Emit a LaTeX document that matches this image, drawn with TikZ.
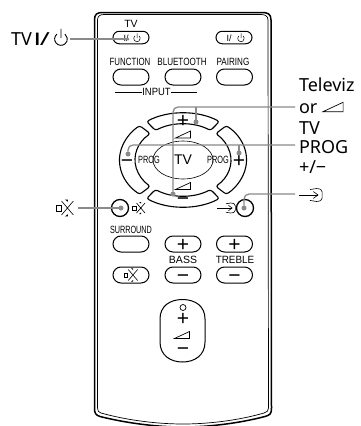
\documentclass[tikz,border=0pt]{standalone}
\usepackage{fontspec}
\usepackage{graphicx}
\setmainfont{Noto Sans}
\newfontfamily\remf{Liberation Sans}
\usetikzlibrary{shapes.misc}
\definecolor{leader}{HTML}{8A8A8A}
\tikzset{
  pill/.style={draw=black,line width=1pt,rounded rectangle,minimum height=#1,inner sep=0pt,outer sep=0pt},
  pill/.default=16pt,
  wideb/.style={pill,minimum width=36pt},
  ringb/.style={draw=black,line width=1.1pt,line join=round,rounded corners=2.5pt},
  lead/.style={draw=leader,line width=1.3pt,rounded corners=5pt},
  dotn/.style={circle,fill=leader,inner sep=0pt,minimum size=5pt,outer sep=0pt},
  free/.style={inner sep=0pt,outer sep=0pt},
  rem/.style={inner sep=0pt,outer sep=0pt,font=\remf\fontsize{10.5}{11}\selectfont},
  lab/.style={inner sep=0pt,outer sep=0pt,anchor=base west,font=\fontsize{18}{20}\selectfont},
  sym/.style={inner sep=0pt,outer sep=0pt,anchor=base,font=\remf\fontsize{21}{21}\selectfont},
}
% wedge icon: centre #1,#2 scale #3
\newcommand{\wedgeicon}[3]{\draw[line width=.7pt,line join=miter,shift={(#1,#2)},scale=#3] (-7.5,3.5) -- (7.5,3.5) -- (7.5,-3.5) -- cycle;}
% mute icon
\newcommand{\muteicon}[3]{\begin{scope}[shift={(#1,#2)},scale=#3]
  \draw[line width=.6pt] (-6.5,-2) rectangle (-3,2);
  \draw[line width=.6pt] (-2.5,-5) -- (6,5) (-2.5,5) -- (6,-5);
  \fill (0,-6) -- (2,-6) -- (2,-4.5) -- cycle (0,6) -- (2,6) -- (2,4.5) -- cycle;
\end{scope}}
% input icon
\newcommand{\inputicon}[3]{\begin{scope}[shift={(#1,#2)},scale=#3]
  \draw[line width=.6pt,rounded corners=1.5pt] (-3,-4) -- (3,-5) -- (6,-3.5) -- (6,3.5) -- (3,5) -- (-3,4);
  \draw[line width=.6pt] (-11,0) -- (3,0);
  \draw[line width=.6pt] (-.5,-2.5) -- (3,0) -- (-.5,2.5);
\end{scope}}
% power icon
\newcommand{\powericon}[4]{\draw[line width=#4,shift={(#1,#2)},scale=#3] (-2.6,-3.2) arc[start angle=231,end angle=-51,radius=4.1] (0,-6.5) -- (0,-.5);}
\newcommand{\ringbtn}[2]{\path[ringb] ({183+63.5*cos(#1)},{160+47*sin(#1)}) arc[start angle=#1,end angle=#2,x radius=63.5,y radius=47] -- ({183+48*cos(#2)},{160+36*sin(#2)}) arc[start angle=#2,end angle=#1,x radius=48,y radius=36] -- cycle;}
\begin{document}
\begin{tikzpicture}[x=1pt,y=1pt,yscale=-1]
\useasboundingbox (0,0) rectangle (361,426);
\fill[white] (0,0) rectangle (361,426);
% body
\begin{scope}
\clip (0,0) rectangle (361,426);
\draw[line width=1.5pt,line join=round] (94.5,412) -- (94.5,20) .. controls (94.5,14) and (97,12.5) .. (103,12.5) -- (262,12.5) .. controls (268,12.5) and (271,14) .. (271,20) -- (271.5,408) .. controls (271.5,414) and (270,415) .. (265,416.5) .. controls (240,423) and (210,427) .. (183,427) .. controls (156,427) and (126,423) .. (100,416.5) .. controls (96,415) and (94.5,414) .. (94.5,408);
\draw[line width=.7pt] (97.5,408) -- (97.5,20) .. controls (97.5,16) and (100,14.5) .. (104,14.5) -- (261,14.5) .. controls (265,14.5) and (268,16) .. (268,20) -- (268.5,408) .. controls (268.5,411) and (267,412) .. (264,413) .. controls (240,420) and (210,424) .. (183,424) .. controls (156,424) and (126,420) .. (101,413) .. controls (98.5,412) and (97.5,411) .. (97.5,408);
\end{scope}
% top buttons
\node[rem] (ttv) at (131,24) {TV};
\node[wideb,minimum height=12.5pt] (bpow) at (131,37.5) {};
\node[wideb,minimum height=12.5pt] (bsys) at (234,37.5) {};
\node[rem,font=\remf\fontsize{9}{9}\selectfont] (bpowt) at (126,38) {I/};
\node[rem,font=\remf\fontsize{9}{9}\selectfont] (bsyst) at (229,38) {I/};
\powericon{137}{38.5}{.8}{.5pt}
\powericon{241}{38.5}{.8}{.5pt}
\node[rem] (tfun) at (130,62) {\scalebox{.75}[1]{FUNCTION}};
\node[rem] (tblu) at (182,62) {\scalebox{.77}[1]{BLUETOOTH}};
\node[rem] (tpai) at (233,62) {\scalebox{.77}[1]{PAIRING}};
\node[wideb] (bfun) at (131,77) {};
\node[wideb] (bblu) at (183,77) {};
\node[wideb] (bpai) at (234.5,77) {};
\node[rem] (tinp) at (156.5,92) {\scalebox{.9}[1]{INPUT}};
\coordinate (il) at (115,92);
\coordinate (ir) at (197,92);
\draw[line width=.9pt] (il) -- (tinp.west) (tinp.east) -- (ir);
% ring
\ringbtn{235}{305}
\ringbtn{-47}{47}
\ringbtn{55}{125}
\ringbtn{133}{227}
\draw[line width=.6pt] (183,160) ellipse[x radius=30,y radius=19];
\node[sym] (vp) at (183,127) {+};
\node[sym] (vm) at (183,205) {−};
\node[sym] (pm) at (127,167) {−};
\node[sym] (pp) at (239,167) {+};
\wedgeicon{183}{134.5}{1}
\wedgeicon{183}{186}{1}
\node[rem] (pl) at (149,160) {\scalebox{.7}[1]{PROG}};
\node[rem] (pr) at (218,160) {\scalebox{.7}[1]{PROG}};
\node[rem,font=\remf\fontsize{14}{14}\selectfont] (ctv) at (183,160) {TV};
% circle buttons
\node[draw=black,line width=1.3pt,circle,minimum size=17pt,inner sep=0pt] (cl) at (120,208) {};
\node[draw=black,line width=1.3pt,circle,minimum size=17pt,inner sep=0pt] (cr) at (245,208) {};
\muteicon{139}{208}{1}
\inputicon{229}{208}{1.05}
% lower buttons
\node[rem] (tsur) at (131,230) {\scalebox{.69}[1]{SURROUND}};
\node[wideb] (bsur) at (131,244) {};
\node[wideb] (bbp) at (183,244) {};
\node[wideb] (btp) at (234.5,244) {};
\node[sym] (sbp) at (183,251) {+};
\node[sym] (stp) at (234.5,251) {+};
\node[rem] (tbas) at (183,260) {BASS};
\node[rem] (ttre) at (235,260) {\scalebox{.94}[1]{TREBLE}};
\node[wideb] (bmu) at (131,275) {};
\node[wideb] (bbm) at (183,275) {};
\node[wideb] (btm) at (234.5,275) {};
\node[sym] (sbm) at (183,282) {−};
\node[sym] (stm) at (234.5,282) {−};
\muteicon{131}{275}{1.1}
% volume pill
\draw[line width=1pt] (160,319) .. controls (160,306) and (170,299.5) .. (182.5,299.5) .. controls (195,299.5) and (205,306) .. (205,319) -- (205,342) .. controls (205,355) and (195,362) .. (182.5,362) .. controls (170,362) and (160,355) .. (160,342) -- cycle;
\draw[line width=.7pt] (183,307.5) circle[radius=3];
\node[sym] (ovp) at (183,325) {+};
\wedgeicon{182}{335}{1}
\node[sym] (ovm) at (183,355) {−};
% labels
\node[lab] (ltv) at (11,45) {TV\hspace{3pt}{\remf\bfseries I}\scalebox{1.5}[1]{/}};
\powericon{61}{39}{1.55}{.9pt}
\coordinate (a1) at (70,39);
\node[dotn,minimum size=3pt] (d1) at (128,39) {};
\node[lab] (ltel) at (299,91) {Televiz};
\node[lab] (lor) at (299,113) {or};
\wedgeicon{333}{107}{1.35}
\node[lab] (ltv2) at (299,134) {TV};
\node[lab] (lprog) at (299,153) {PROG};
\node[lab] (lpm) at (299,173) {+/−};
\inputicon{314}{195}{1.35}
\muteicon{65}{208}{1.4}
\coordinate (a2) at (295,107);
\coordinate (a3) at (295,145);
\coordinate (a4) at (295,194);
\coordinate (a5) at (78,208);
\coordinate (j2) at (196,107);
\coordinate (j3) at (239,145);
\node[dotn] (d2a) at (196,122) {};
\node[dotn] (d2b) at (173,194) {};
\node[dotn] (d3a) at (128,154) {};
\node[dotn] (d3b) at (239,153) {};
\node[dotn] (d4) at (244,208) {};
\node[dotn] (d5) at (121,208) {};
% leaders
\draw[lead] (a1) -- (d1);
\draw[lead] (a2) -- (173,107) -- (d2b);
\draw[lead] (j2) -- (d2a);
\draw[lead] (a3) -- (128,145) -- (d3a);
\draw[lead] (j3) -- (d3b);
\draw[lead] (a4) -- (244,194) -- (d4);
\draw[lead] (a5) -- (d5);
\end{tikzpicture}
\end{document}
